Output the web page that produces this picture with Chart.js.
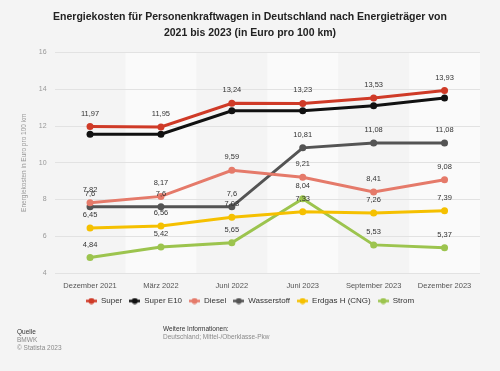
<!DOCTYPE html>
<html>
<head>
<meta charset="utf-8">
<script src="https://cdn.jsdelivr.net/npm/chart.js@4"></script>
<style>
  html, body { margin: 0; padding: 0; background: #f4f4f4; }
  #wrap { width: 500px; height: 371px; }
</style>
</head>
<body>
<div id="wrap"><canvas id="energy-costs" width="500" height="371"></canvas></div>
<script>
var categories = ["Dezember 2021", "März 2022", "Juni 2022", "Juni 2023", "September 2023", "Dezember 2023"];
var superValues = [11.97, 11.95, 13.24, 13.23, 13.53, 13.93];
var superE10Values = [11.55, 11.55, 12.83, 12.83, 13.1, 13.52];
var dieselValues = [7.82, 8.17, 9.59, 9.21, 8.41, 9.08];
var wasserstoffValues = [7.6, 7.6, 7.6, 10.81, 11.08, 11.08];
var erdgasValues = [6.45, 6.56, 7.03, 7.33, 7.26, 7.39];
var stromValues = [4.84, 5.42, 5.65, 8.04, 5.53, 5.37];
var yTicks = [4, 6, 8, 10, 12, 14, 16];

var FONT = "'Liberation Sans', Arial, sans-serif";

function legendMarker(color) {
    var c = document.createElement("canvas");
    c.width = 11;
    c.height = 7;
    var g = c.getContext("2d");
    g.strokeStyle = color;
    g.lineWidth = 2.5;
    g.beginPath();
    g.moveTo(0, 3.5);
    g.lineTo(11, 3.5);
    g.stroke();
    g.fillStyle = color;
    g.beginPath();
    g.arc(5.5, 3.5, 3, 0, Math.PI * 2);
    g.fill();
    return c;
}

function makeSeries(label, values, color, showLabels) {
    return {
        label: label,
        data: values,
        borderColor: color,
        backgroundColor: color,
        pointBackgroundColor: color,
        pointBorderColor: color,
        borderWidth: 3,
        pointBorderWidth: 0,
        pointRadius: 3.5,
        pointHoverRadius: 3.5,
        pointStyle: "circle",
        legendMarker: legendMarker(color),
        showLabels: showLabels,
        tension: 0,
    };
}

var datasets = [
    makeSeries("Super", superValues, "#cf3a27", true),
    makeSeries("Super E10", superE10Values, "#111111", false),
    makeSeries("Diesel", dieselValues, "#e57a6a", true),
    makeSeries("Wasserstoff", wasserstoffValues, "#545454", true),
    makeSeries("Erdgas H (CNG)", erdgasValues, "#f5c000", true),
    makeSeries("Strom", stromValues, "#9cc44e", true),
];

// background and alternating column bands
var bandsPlugin = {
    id: "bands",
    beforeDraw: function (chart) {
        var ctx = chart.ctx;
        var area = chart.chartArea;
        var x = chart.scales.x;
        ctx.save();
        ctx.fillStyle = "#f4f4f4";
        ctx.fillRect(0, 0, chart.width, chart.height);
        var step = x.getPixelForValue(1) - x.getPixelForValue(0);
        ctx.fillStyle = "#fafafa";
        for (var i = 1; i < categories.length; i += 2) {
            var cx = x.getPixelForValue(i);
            ctx.fillRect(cx - step / 2, area.top, step, area.bottom - area.top);
        }
        ctx.restore();
    },
};

// value labels above the points
var valueLabels = {
    id: "valueLabels",
    afterDatasetsDraw: function (chart) {
        var ctx = chart.ctx;
        ctx.save();
        ctx.font = "7.5px " + FONT;
        ctx.fillStyle = "#333333";
        ctx.textAlign = "center";
        ctx.textBaseline = "middle";
        chart.data.datasets.forEach(function (ds, di) {
            if (!ds.showLabels) return;
            var meta = chart.getDatasetMeta(di);
            meta.data.forEach(function (pt, i) {
                var txt = String(ds.data[i]).replace(".", ",");
                ctx.fillText(txt, pt.x, pt.y - 13);
            });
        });
        ctx.restore();
    },
};

// source / info footer
var footer = {
    id: "footer",
    afterDraw: function (chart) {
        var ctx = chart.ctx;
        ctx.save();
        ctx.textBaseline = "middle";
        ctx.textAlign = "left";
        ctx.font = "6.5px " + FONT;
        ctx.fillStyle = "#333333";
        ctx.fillText("Quelle", 17, 332);
        ctx.fillText("Weitere Informationen:", 163, 329);
        ctx.fillStyle = "#8a8a8a";
        ctx.fillText("BMWK", 17, 340);
        ctx.fillText("© Statista 2023", 17, 348);
        ctx.fillText("Deutschland; Mittel-/Oberklasse-Pkw", 163, 337);
        ctx.restore();
    },
};

var chart = new Chart(document.getElementById("energy-costs"), {
    type: "line",
    data: {
        labels: categories,
        datasets: datasets,
    },
    plugins: [bandsPlugin, valueLabels, footer],
    options: {
        responsive: false,
        animation: false,
        layout: {
            padding: { left: 20, right: 20, top: 0, bottom: 56 },
        },
        plugins: {
            title: {
                display: true,
                text: [
                    "Energiekosten für Personenkraftwagen in Deutschland nach Energieträger von",
                    "2021 bis 2023 (in Euro pro 100 km)",
                ],
                color: "#222222",
                font: { family: FONT, size: 10.5, weight: "bold", lineHeight: 1.5 },
                padding: { top: 9, bottom: 12 },
            },
            legend: {
                display: true,
                position: "bottom",
                labels: {
                    usePointStyle: true,
                    pointStyleWidth: 11,
                    boxHeight: 7,
                    padding: 7,
                    color: "#333333",
                    font: { family: FONT, size: 8 },
                    generateLabels: function (chart) {
                        return chart.data.datasets.map(function (ds, i) {
                            return {
                                text: ds.label,
                                pointStyle: ds.legendMarker,
                                fillStyle: ds.borderColor,
                                strokeStyle: ds.borderColor,
                                lineWidth: 0,
                                fontColor: "#333333",
                                hidden: false,
                                datasetIndex: i,
                            };
                        });
                    },
                },
            },
            tooltip: { enabled: false },
        },
        scales: {
            x: {
                offset: true,
                grid: { display: false },
                border: { display: false },
                ticks: {
                    color: "#555555",
                    font: { family: FONT, size: 7.5 },
                    padding: 0,
                    maxRotation: 0,
                },
            },
            y: {
                min: 4,
                max: 16,
                afterBuildTicks: function (axis) {
                    axis.ticks = yTicks.map(function (v) { return { value: v }; });
                },
                grid: { color: "#e2e2e2", lineWidth: 1, drawTicks: false },
                border: { display: false },
                ticks: {
                    color: "#999999",
                    font: { family: FONT, size: 7 },
                    padding: 8,
                },
                title: {
                    display: true,
                    text: "Energiekosten in Euro pro 100 km",
                    color: "#999999",
                    font: { family: FONT, size: 6.5 },
                    padding: { top: 0, bottom: 3 },
                },
            },
        },
    },
});
</script>
</body>
</html>
